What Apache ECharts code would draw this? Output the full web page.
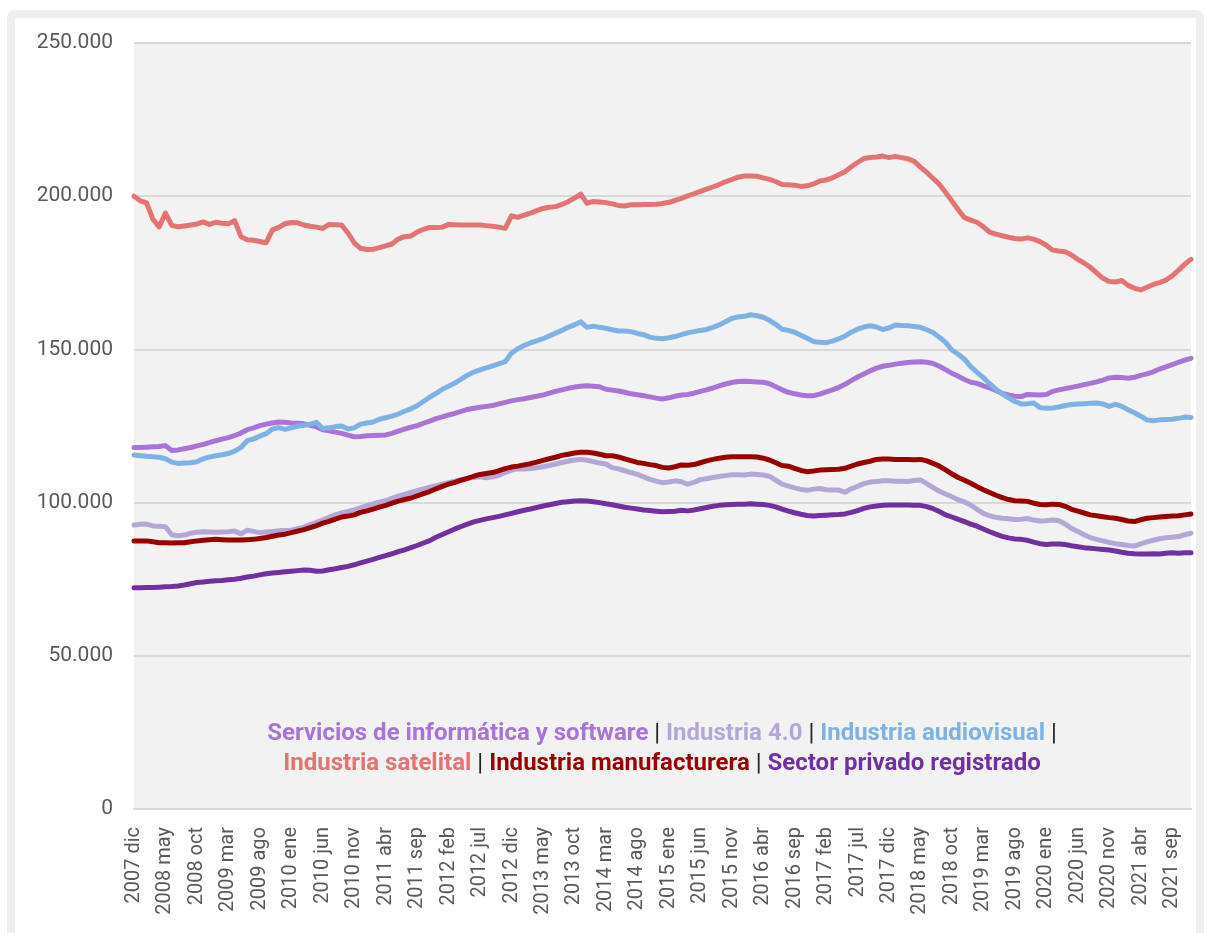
<!DOCTYPE html>
<html>
<head>
<meta charset="utf-8">
<script src="https://cdn.jsdelivr.net/npm/echarts@6/dist/echarts.min.js"></script>
<style>
  html, body { margin: 0; padding: 0; background: #ffffff; }
  #chart { width: 1209px; height: 933px; }
</style>
</head>
<body>
<div id="chart"></div>
<script>
// Puestos de trabajo registrados (miles), serie mensual 2007 dic – 2021 dic
const MONTHS = ['ene','feb','mar','abr','may','jun','jul','ago','sep','oct','nov','dic'];
const FIRST_YEAR = 2007, FIRST_MONTH = 11, N_POINTS = 169;

const serviciosInformatica = [
  118.0, 118.0, 118.1, 118.2, 118.3, 118.6, 117.0, 117.2, 117.6, 118.0, 118.5, 119.0,
  119.6, 120.2, 120.7, 121.2, 121.9, 122.7, 123.8, 124.4, 125.1, 125.6, 126.0, 126.3,
  126.2, 126.0, 125.9, 125.7, 125.2, 124.7, 123.8, 123.4, 123.0, 122.6, 122.0, 121.5,
  121.6, 121.8, 121.9, 122.0, 122.1, 122.6, 123.3, 124.0, 124.6, 125.1, 125.9, 126.6,
  127.4, 128.0, 128.6, 129.1, 129.8, 130.4, 130.8, 131.1, 131.4, 131.7, 132.2, 132.7,
  133.2, 133.6, 133.9, 134.3, 134.7, 135.1, 135.7, 136.3, 136.8, 137.3, 137.7, 138.0,
  138.1, 138.0, 137.8, 137.0, 136.7, 136.4, 136.0, 135.5, 135.2, 134.9, 134.5, 134.1,
  133.8, 134.2, 134.7, 135.1, 135.3, 135.7, 136.3, 136.8, 137.4, 138.1, 138.7, 139.2,
  139.5, 139.6, 139.5, 139.4, 139.3, 138.8, 137.8, 136.8, 136.0, 135.5, 135.1, 134.9,
  134.9, 135.4, 136.1, 136.8, 137.6, 138.6, 139.8, 141.0, 142.0, 143.0, 143.9, 144.5,
  144.8, 145.2, 145.5, 145.7, 145.9, 146.0, 145.8, 145.4, 144.5, 143.4, 142.2, 141.2,
  140.2, 139.3, 138.9, 138.1, 137.4, 136.6, 135.6, 135.1, 134.7, 134.6, 135.3, 135.2,
  135.1, 135.3, 136.3, 136.8, 137.2, 137.6, 138.0, 138.5, 138.9, 139.4, 140.0, 140.7,
  140.9, 140.8, 140.6, 140.9, 141.5, 142.0, 142.7, 143.6, 144.3, 145.0, 145.8, 146.5, 147.1
];

const industria40 = [
  92.7, 92.9, 93.0, 92.4, 92.3, 92.1, 89.5, 89.2, 89.4, 90.0, 90.3, 90.5,
  90.4, 90.3, 90.4, 90.5, 90.7, 89.8, 91.0, 90.6, 90.2, 90.4, 90.6, 90.8,
  90.9, 91.0, 91.5, 92.0, 92.8, 93.6, 94.4, 95.2, 96.0, 96.6, 97.1, 97.6,
  98.3, 99.0, 99.6, 100.1, 100.6, 101.4, 102.1, 102.7, 103.3, 103.9, 104.5, 105.0,
  105.5, 106.0, 106.5, 107.0, 107.5, 107.9, 108.2, 108.4, 108.1, 108.4, 108.9, 109.8,
  110.6, 111.0, 111.0, 111.1, 111.4, 111.7, 112.1, 112.6, 113.1, 113.5, 113.9, 114.1,
  113.8, 113.4, 112.9, 112.6, 111.4, 111.0, 110.4, 109.8, 109.2, 108.4, 107.6, 107.0,
  106.5, 106.7, 107.1, 106.8, 106.0, 106.6, 107.5, 107.8, 108.2, 108.5, 108.8, 109.1,
  109.1, 109.0, 109.3, 109.2, 109.0, 108.6, 107.3, 106.0, 105.4, 104.8, 104.3, 104.0,
  104.4, 104.6, 104.2, 104.1, 104.1, 103.4, 104.5, 105.3, 106.2, 106.7, 106.9, 107.1,
  107.1, 107.0, 107.0, 106.9, 107.2, 107.4, 106.2, 104.9, 103.7, 102.8, 101.9, 100.9,
  100.2, 99.2, 97.8, 96.5, 95.7, 95.2, 94.9, 94.7, 94.5, 94.6, 94.8, 94.3,
  94.0, 94.1, 94.3, 94.1, 93.0, 91.6, 90.6, 89.5, 88.6, 88.0, 87.5, 87.0,
  86.6, 86.3, 86.0, 85.8, 86.5, 87.2, 87.7, 88.2, 88.5, 88.7, 88.9, 89.5, 90.0
];

const industriaAudiovisual = [
  115.5, 115.3, 115.1, 115.0, 114.8, 114.3, 113.2, 112.8, 112.9, 113.0, 113.3, 114.3,
  114.9, 115.3, 115.6, 116.0, 116.8, 118.0, 120.2, 120.8, 121.7, 122.5, 124.0, 124.5,
  123.9, 124.4, 125.0, 125.2, 125.6, 126.2, 124.2, 124.4, 124.8, 125.0, 124.0, 124.4,
  125.6, 126.0, 126.3, 127.2, 127.7, 128.2, 128.9, 129.8, 130.6, 131.6, 133.0, 134.4,
  135.6, 137.0, 138.0, 139.0, 140.3, 141.6, 142.6, 143.3, 144.0, 144.6, 145.3, 146.0,
  148.8, 150.2, 151.3, 152.1, 152.8, 153.5, 154.4, 155.3, 156.2, 157.2, 158.0, 159.0,
  157.2, 157.6, 157.2, 156.9, 156.4, 156.0, 156.0, 155.8, 155.2, 154.8, 154.0, 153.6,
  153.5, 153.8, 154.2, 154.8, 155.4, 155.8, 156.2, 156.5, 157.2, 158.0, 159.0, 160.1,
  160.6, 160.8, 161.3, 161.0, 160.5, 159.5, 158.2, 156.6, 156.2, 155.6, 154.6, 153.6,
  152.6, 152.3, 152.2, 152.7, 153.4, 154.4, 155.6, 156.6, 157.3, 157.7, 157.3, 156.5,
  157.0, 158.0, 157.8, 157.7, 157.5, 157.2, 156.4, 155.5, 154.0, 152.3, 149.8, 148.4,
  146.8, 144.4, 142.5, 140.8, 138.8, 137.0, 135.5, 134.2, 133.0, 132.2, 132.3, 132.5,
  131.0, 130.8, 130.9, 131.2, 131.7, 132.0, 132.2, 132.3, 132.4, 132.5, 132.2, 131.4,
  132.1, 131.4, 130.3, 129.3, 128.2, 127.0, 126.7, 127.0, 127.1, 127.2, 127.5, 127.9, 127.8
];

const industriaSatelital = [
  200.0, 198.5, 197.8, 192.5, 190.0, 194.5, 190.5, 190.0, 190.3, 190.6, 190.9, 191.6,
  190.8, 191.5, 191.2, 191.0, 192.0, 186.8, 185.8, 185.6, 185.2, 184.8, 189.0, 189.8,
  191.0, 191.4, 191.3, 190.6, 190.2, 189.9, 189.5, 190.8, 190.7, 190.6, 188.0, 184.8,
  183.0, 182.6, 182.7, 183.2, 183.8, 184.4, 186.0, 186.8, 187.0, 188.3, 189.2, 189.8,
  189.8, 189.9, 190.8, 190.7, 190.6, 190.6, 190.6, 190.6, 190.4, 190.2, 189.9, 189.5,
  193.6, 193.1, 193.8, 194.5, 195.3, 196.0, 196.4, 196.6, 197.3, 198.2, 199.4, 200.7,
  197.7, 198.3, 198.1, 197.9, 197.5, 197.0, 196.8, 197.2, 197.2, 197.3, 197.3, 197.4,
  197.6, 198.0, 198.6, 199.3, 200.1, 200.8, 201.6, 202.3, 203.0, 203.8, 204.7, 205.4,
  206.2, 206.6, 206.6, 206.5, 206.0, 205.5, 204.8, 203.8, 203.7, 203.6, 203.2, 203.4,
  204.0, 205.0, 205.3, 206.0, 207.0, 208.0, 209.6, 211.0, 212.3, 212.6, 212.8, 213.1,
  212.6, 213.0, 212.6, 212.2, 211.4, 209.5, 207.8, 205.8, 203.9, 201.2, 198.4, 195.6,
  193.0, 192.2, 191.5, 190.0, 188.3, 187.6, 187.1, 186.6, 186.2, 186.0, 186.4, 186.0,
  185.2, 184.0, 182.4, 182.1, 181.9, 180.8, 179.4, 178.2, 176.8, 175.0, 173.2, 172.2,
  172.0, 172.5, 170.9, 170.0, 169.4, 170.3, 171.2, 171.8, 172.6, 174.0, 175.8, 177.8, 179.4
];

const industriaManufacturera = [
  87.5, 87.5, 87.5, 87.2, 86.9, 86.9, 86.8, 86.9, 86.9, 87.2, 87.5, 87.7,
  87.9, 88.0, 87.9, 87.8, 87.8, 87.8, 87.9, 88.0, 88.3, 88.6, 89.0, 89.4,
  89.7, 90.2, 90.7, 91.2, 91.8, 92.5, 93.3, 93.9, 94.6, 95.3, 95.6, 96.0,
  96.8, 97.3, 97.9, 98.5, 99.1, 99.8, 100.5, 101.0, 101.5, 102.2, 102.9, 103.6,
  104.5, 105.3, 106.0, 106.6, 107.3, 107.9, 108.6, 109.2, 109.5, 109.8, 110.4, 111.1,
  111.6, 111.9, 112.3, 112.7, 113.2, 113.8, 114.3, 114.8, 115.4, 115.8, 116.2, 116.4,
  116.4, 116.2, 115.8, 115.3, 115.3, 114.9, 114.3, 113.7, 113.1, 112.8, 112.4, 112.1,
  111.5, 111.3, 111.7, 112.3, 112.2, 112.4, 113.0, 113.6, 114.1, 114.5, 114.8, 115.0,
  115.0, 115.0, 115.0, 114.9, 114.5, 113.9, 113.0, 112.1, 111.9, 111.2, 110.5, 110.1,
  110.3, 110.6, 110.7, 110.8, 110.9, 111.2, 111.9, 112.6, 113.1, 113.5, 114.1, 114.2,
  114.2, 114.1, 114.1, 114.1, 114.0, 114.1, 113.6, 112.8, 111.9, 110.7, 109.4, 108.2,
  107.3, 106.3, 105.2, 104.2, 103.3, 102.4, 101.6, 101.0, 100.6, 100.5, 100.4, 99.8,
  99.4, 99.3, 99.5, 99.4, 98.8, 97.8, 97.2, 96.6, 96.0, 95.7, 95.4, 95.1,
  94.9, 94.5, 94.0, 93.8, 94.4, 94.9, 95.1, 95.3, 95.5, 95.6, 95.7, 96.0, 96.3
];

const sectorPrivado = [
  72.2, 72.2, 72.3, 72.3, 72.4, 72.5, 72.6, 72.8, 73.1, 73.5, 73.9, 74.1,
  74.3, 74.5, 74.6, 74.8, 75.0, 75.3, 75.7, 76.0, 76.4, 76.8, 77.0, 77.2,
  77.4, 77.6, 77.8, 78.0, 77.9, 77.6, 77.7, 78.1, 78.4, 78.8, 79.2, 79.7,
  80.3, 80.9, 81.5, 82.1, 82.7, 83.3, 84.0, 84.6, 85.3, 86.0, 86.8, 87.6,
  88.7, 89.6, 90.5, 91.4, 92.2, 93.0, 93.7, 94.2, 94.7, 95.1, 95.5, 96.0,
  96.5, 97.0, 97.5, 97.9, 98.4, 98.9, 99.3, 99.7, 100.1, 100.3, 100.5, 100.6,
  100.5, 100.3, 100.0, 99.6, 99.3, 98.9, 98.5, 98.2, 97.9, 97.6, 97.4, 97.2,
  97.0, 97.1, 97.2, 97.5, 97.3, 97.6, 98.0, 98.4, 98.8, 99.1, 99.3, 99.4,
  99.5, 99.5, 99.6, 99.5, 99.4, 99.1, 98.6, 97.9, 97.2, 96.7, 96.2, 95.8,
  95.6, 95.8, 95.9, 96.0, 96.1, 96.3, 96.8, 97.4, 98.1, 98.6, 98.9, 99.1,
  99.2, 99.2, 99.2, 99.2, 99.1, 99.1, 98.7, 98.0, 97.1, 96.0, 95.3, 94.5,
  93.8, 93.0, 92.3, 91.4, 90.5, 89.7, 89.0, 88.5, 88.1, 88.0, 87.7, 87.1,
  86.6, 86.3, 86.5, 86.5, 86.3, 85.9, 85.6, 85.3, 85.1, 84.9, 84.7, 84.5,
  84.2, 83.8, 83.5, 83.3, 83.2, 83.2, 83.3, 83.2, 83.5, 83.6, 83.5, 83.6, 83.6
];

// "2007 dic", "2008 ene", ...
const categories = [];
for (let k = 0; k < N_POINTS; k++) {
  const m = FIRST_MONTH + k;
  categories.push((FIRST_YEAR + Math.floor(m / 12)) + ' ' + MONTHS[m % 12]);
}

const SERIES = [
  { name: 'Servicios de informática y software', key: 'srv', color: '#a974d8', data: serviciosInformatica },
  { name: 'Industria 4.0', key: 'i40', color: '#b4a7d6', data: industria40 },
  { name: 'Industria audiovisual', key: 'aud', color: '#7fb2e2', data: industriaAudiovisual },
  { name: 'Industria satelital', key: 'sat', color: '#e57373', data: industriaSatelital },
  { name: 'Industria manufacturera', key: 'man', color: '#990000', data: industriaManufacturera },
  { name: 'Sector privado registrado', key: 'spr', color: '#7030a0', data: sectorPrivado }
];

const FONT = 'Roboto, "Liberation Sans", sans-serif';
const LEGEND_SIZE = 24;
const rich = { sep: { fill: '#222222', fontSize: LEGEND_SIZE, fontFamily: FONT, fontWeight: 'normal' } };
SERIES.forEach(s => {
  rich[s.key] = { fill: s.color, fontSize: LEGEND_SIZE, fontFamily: FONT, fontWeight: 'bold' };
});
const label = s => '{' + s.key + '|' + s.name + '}';
const legendLine1 = label(SERIES[0]) + '{sep| | }' + label(SERIES[1]) + '{sep| | }' + label(SERIES[2]) + '{sep| |}';
const legendLine2 = label(SERIES[3]) + '{sep| | }' + label(SERIES[4]) + '{sep| | }' + label(SERIES[5]);

const chart = echarts.init(document.getElementById('chart'), null, { renderer: 'canvas' });
chart.setOption({
  backgroundColor: '#ffffff',
  animation: false,
  grid: {
    left: 134, right: 18, top: 43, bottom: 124,
    show: true, backgroundColor: '#f2f2f2', borderWidth: 0,
    containLabel: false
  },
  xAxis: {
    type: 'category',
    data: categories,
    boundaryGap: false,
    axisTick: { show: false },
    axisLine: { lineStyle: { color: '#d9d9d9', width: 2 } },
    axisLabel: {
      interval: 4, rotate: 90, margin: 18,
      color: '#595959', fontSize: 20, fontFamily: FONT
    },
    splitLine: { show: false }
  },
  yAxis: {
    type: 'value',
    min: 0, max: 250, interval: 50,
    axisLine: { show: false },
    axisTick: { show: false },
    axisLabel: {
      margin: 21, color: '#595959', fontSize: 21, fontFamily: FONT,
      formatter: v => (v === 0 ? '0' : v + '.000')
    },
    splitLine: { lineStyle: { color: '#d9d9d9', width: 2 } }
  },
  series: SERIES.map(s => ({
    name: s.name,
    type: 'line',
    data: s.data,
    showSymbol: false,
    symbol: 'none',
    smooth: false,
    lineStyle: { color: s.color, width: 5, cap: 'round', join: 'round' },
    itemStyle: { color: s.color }
  })),
  graphic: [
    {
      type: 'rect', silent: true, z: -10,
      shape: { x: 11, y: 14, width: 1189, height: 940, r: 4 },
      style: { fill: 'none', stroke: '#efefef', lineWidth: 8 }
    },
    {
      type: 'text', x: 662, y: 719, z: 10,
      style: {
        text: legendLine1 + '\n' + legendLine2, rich: rich,
        align: 'center', verticalAlign: 'top', lineHeight: 30
      }
    }
  ]
});
</script>
</body>
</html>
